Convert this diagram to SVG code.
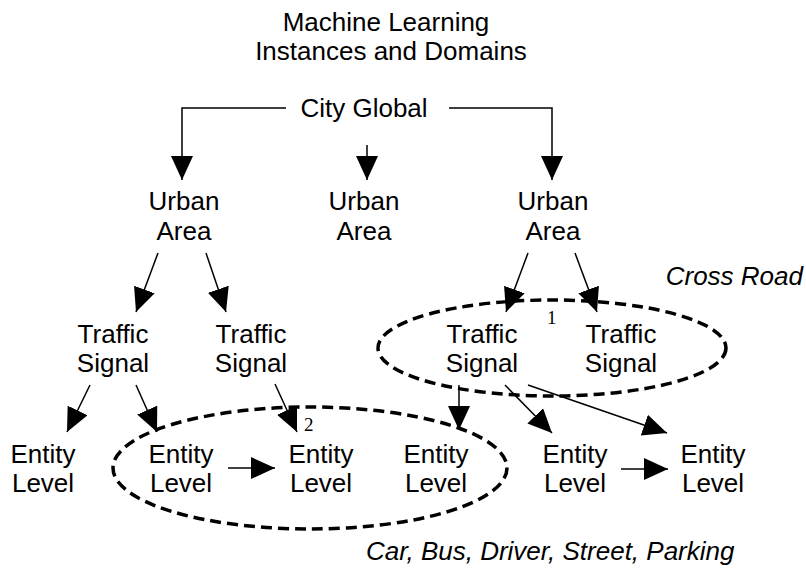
<svg xmlns="http://www.w3.org/2000/svg" width="806" height="570" viewBox="0 0 806 570">
<style>
text{font-family:"Liberation Sans",Arial,sans-serif;font-size:26px;fill:#000;text-anchor:middle}
.it{font-style:italic}
.num{font-family:"Liberation Serif","Times New Roman",serif;font-size:19px;text-anchor:start}
.c{fill:none;stroke:#000;stroke-width:1.5}
.grp{fill:none;stroke:#000;stroke-width:3.5;stroke-dasharray:11,6}
</style>
<defs>
<marker id="ah" markerUnits="userSpaceOnUse" markerWidth="25" markerHeight="23" refX="24" refY="11" orient="auto" viewBox="0 0 25 23">
<path d="M0,0 L24,11 L0,22 z" fill="#000"/>
</marker>
</defs>
<g id="title">
<text x="386" y="31">Machine Learning</text>
<text x="391" y="60">Instances and Domains</text>
</g>
<g id="groups">
<ellipse cx="552" cy="348" rx="174" ry="48" class="grp"/>
<ellipse cx="310" cy="468" rx="197" ry="61" class="grp"/>
<text class="num" x="547" y="324">1</text>
<text class="num" x="304" y="431">2</text>
</g>
<g id="connectors">
<polyline class="c" points="286,108 182,108 182,180" marker-end="url(#ah)"/>
<polyline class="c" points="449,108 552,108 552,180" marker-end="url(#ah)"/>
<line class="c" x1="367" y1="145" x2="367" y2="180" marker-end="url(#ah)"/>
<line class="c" x1="158" y1="253" x2="136" y2="312" marker-end="url(#ah)"/>
<line class="c" x1="206" y1="253" x2="226" y2="312" marker-end="url(#ah)"/>
<line class="c" x1="528" y1="253" x2="506" y2="312" marker-end="url(#ah)"/>
<line class="c" x1="575" y1="253" x2="597" y2="312" marker-end="url(#ah)"/>
<line class="c" x1="90" y1="385" x2="67" y2="432" marker-end="url(#ah)"/>
<line class="c" x1="136" y1="385" x2="157" y2="432" marker-end="url(#ah)"/>
<line class="c" x1="275" y1="384" x2="297" y2="432" marker-end="url(#ah)"/>
<line class="c" x1="459" y1="385" x2="459" y2="430" marker-end="url(#ah)"/>
<line class="c" x1="505" y1="385" x2="552" y2="433" marker-end="url(#ah)"/>
<line class="c" x1="528" y1="385" x2="667" y2="433" marker-end="url(#ah)"/>
<line class="c" x1="228" y1="468" x2="275" y2="468" marker-end="url(#ah)"/>
<line class="c" x1="621" y1="469" x2="668" y2="469" marker-end="url(#ah)"/>
</g>
<g id="city-global"><text x="364" y="117">City Global</text></g>
<g id="urban-area-1"><text x="184" y="210">Urban</text><text x="184" y="240">Area</text></g>
<g id="urban-area-2"><text x="364" y="210">Urban</text><text x="364" y="240">Area</text></g>
<g id="urban-area-3"><text x="553" y="210">Urban</text><text x="553" y="240">Area</text></g>
<g id="traffic-signal-1"><text x="113" y="343">Traffic</text><text x="113" y="372">Signal</text></g>
<g id="traffic-signal-2"><text x="251" y="343">Traffic</text><text x="251" y="372">Signal</text></g>
<g id="traffic-signal-3"><text x="482" y="343">Traffic</text><text x="482" y="372">Signal</text></g>
<g id="traffic-signal-4"><text x="621" y="343">Traffic</text><text x="621" y="372">Signal</text></g>
<g id="entity-level-1"><text x="43" y="463">Entity</text><text x="43" y="492">Level</text></g>
<g id="entity-level-2"><text x="181" y="463">Entity</text><text x="181" y="492">Level</text></g>
<g id="entity-level-3"><text x="321" y="463">Entity</text><text x="321" y="492">Level</text></g>
<g id="entity-level-4"><text x="436" y="463">Entity</text><text x="436" y="492">Level</text></g>
<g id="entity-level-5"><text x="575" y="463">Entity</text><text x="575" y="492">Level</text></g>
<g id="entity-level-6"><text x="713" y="463">Entity</text><text x="713" y="492">Level</text></g>
<g id="labels">
<text class="it" x="803" y="285" style="text-anchor:end">Cross Road</text>
<text class="it" x="366" y="560" style="text-anchor:start">Car, Bus, Driver, Street, Parking</text>
</g>
</svg>
